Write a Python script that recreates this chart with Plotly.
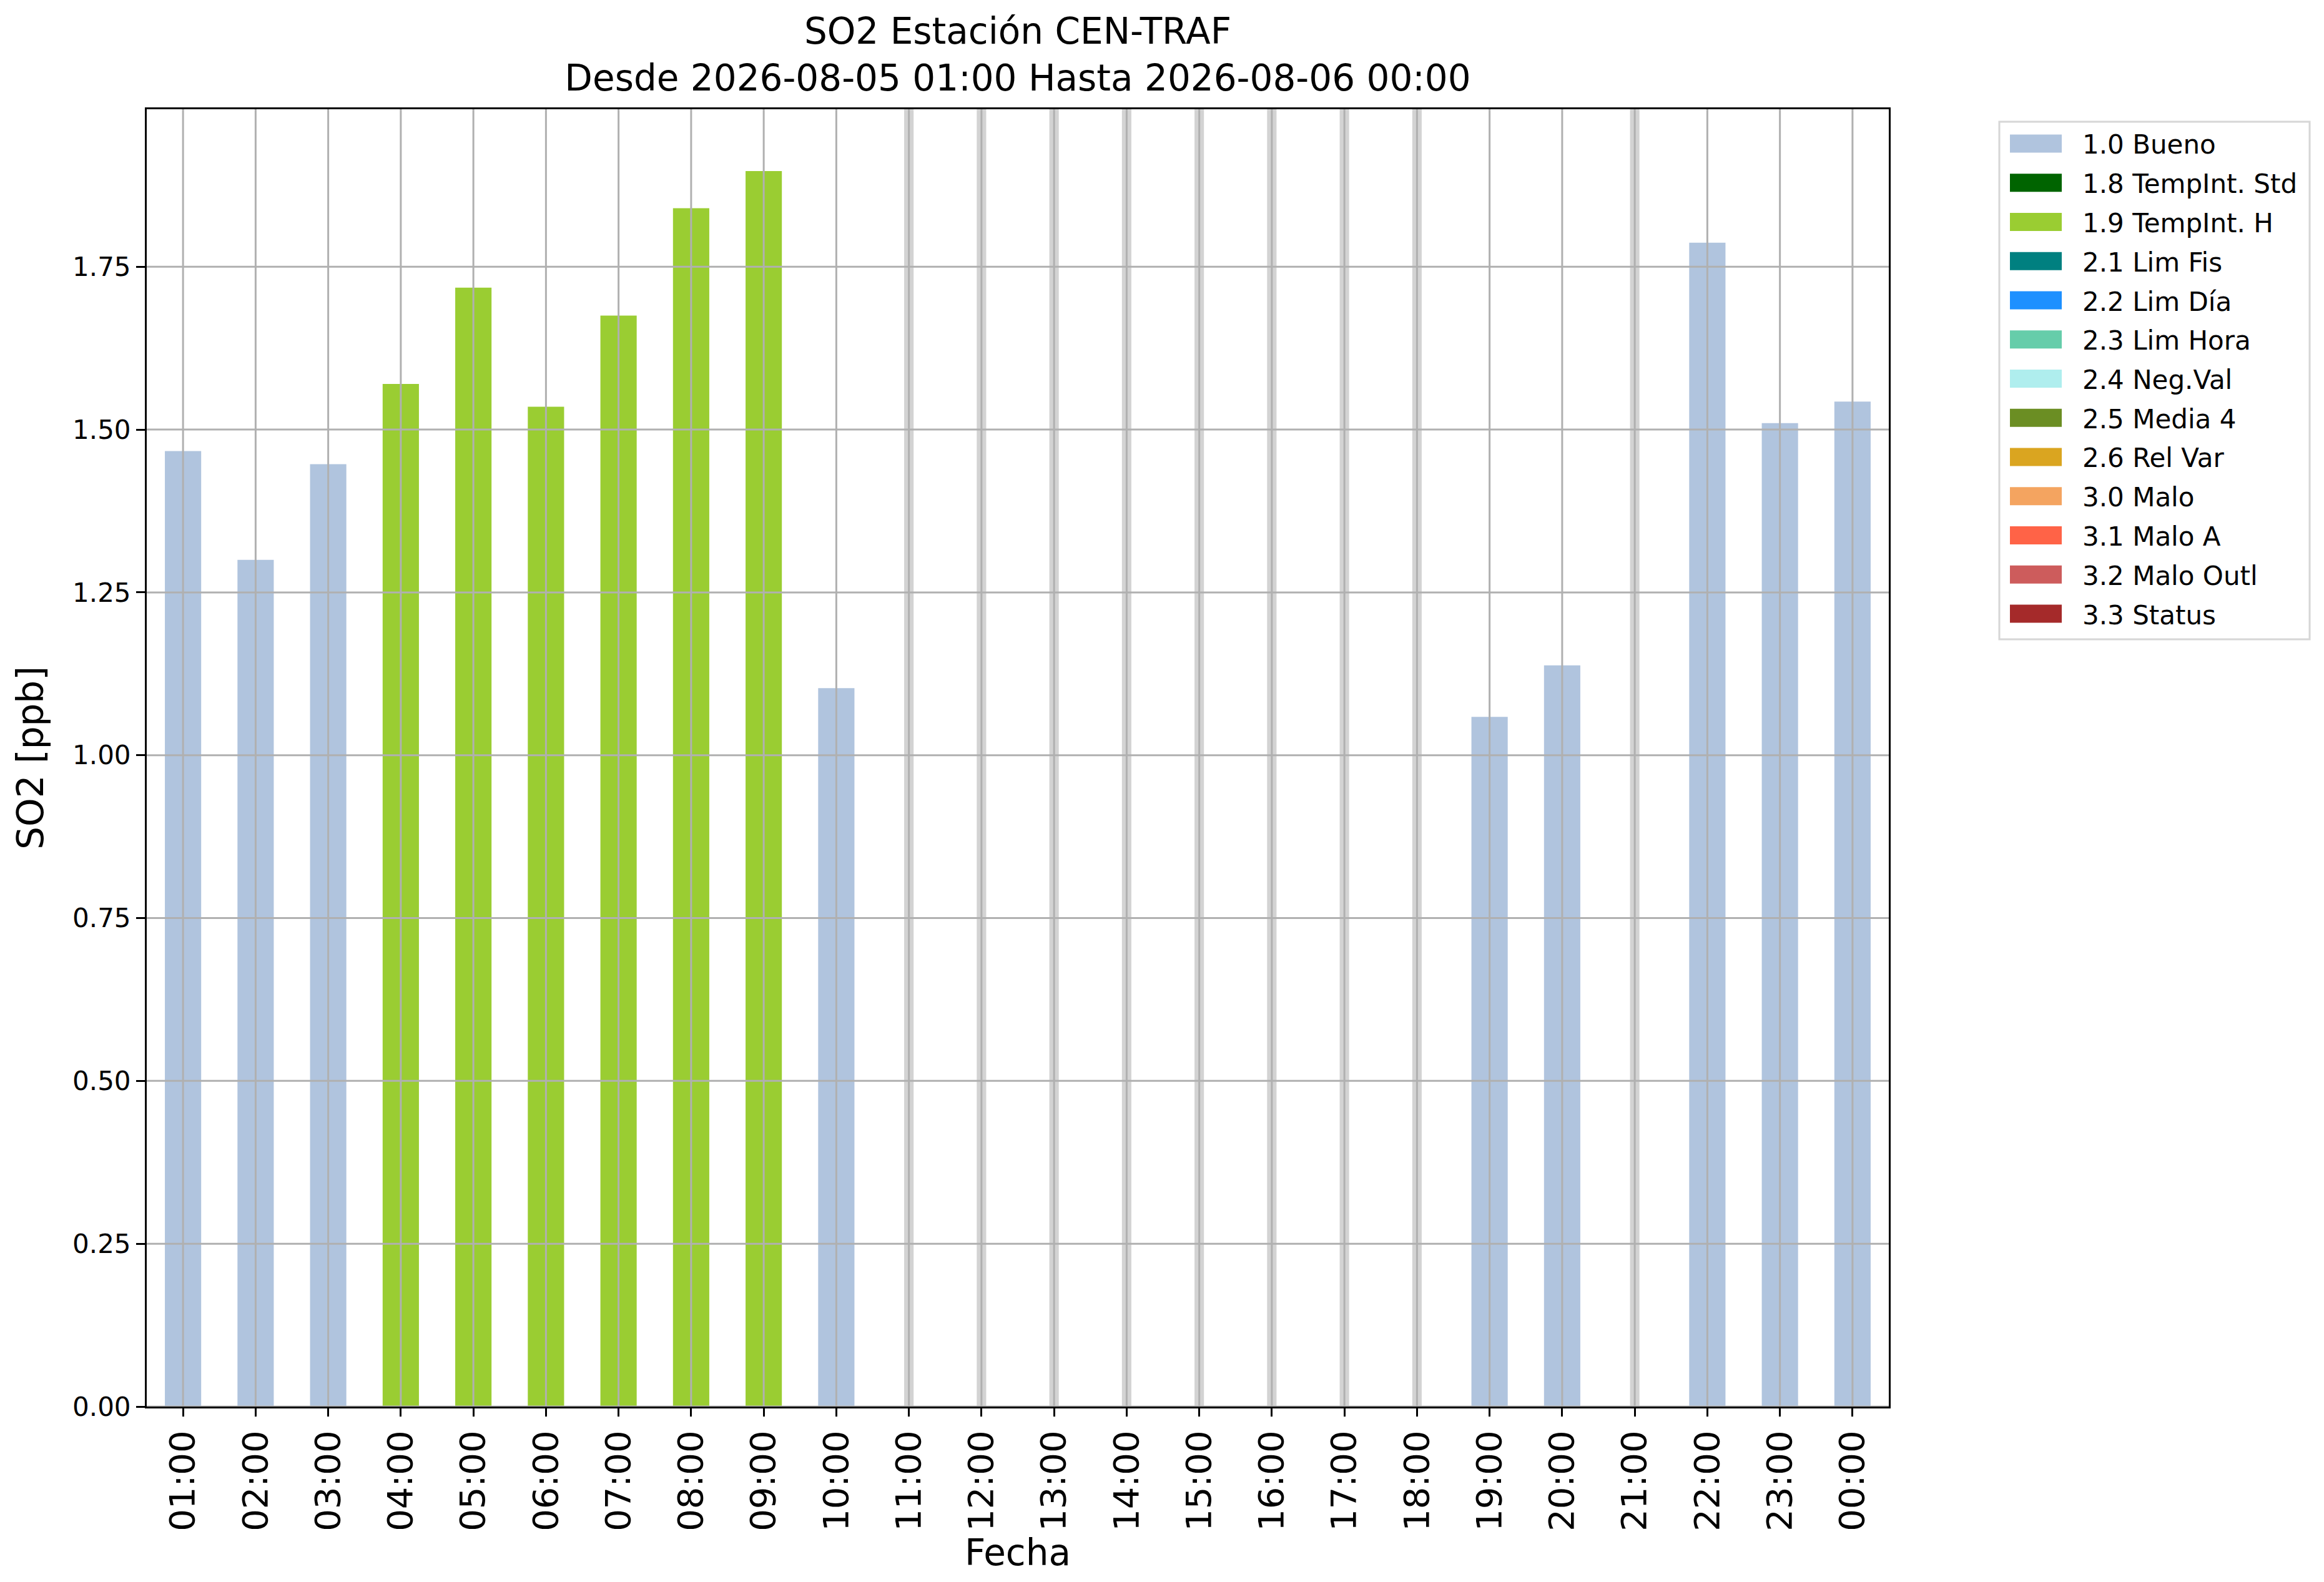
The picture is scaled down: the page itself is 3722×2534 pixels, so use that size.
import plotly.graph_objects as go

# horas del día (eje x) y valores SO2 en ppb (None = sin dato)
hours = ["01:00", "02:00", "03:00", "04:00", "05:00", "06:00", "07:00", "08:00",
         "09:00", "10:00", "11:00", "12:00", "13:00", "14:00", "15:00", "16:00",
         "17:00", "18:00", "19:00", "20:00", "21:00", "22:00", "23:00", "00:00"]
so2 = [1.467, 1.300, 1.447, 1.570, 1.718, 1.535, 1.675, 1.840,
       1.897, 1.103, None, None, None, None, None, None,
       None, None, 1.059, 1.138, None, 1.787, 1.510, 1.543]
flags = ["1.0", "1.0", "1.0", "1.9", "1.9", "1.9", "1.9", "1.9",
         "1.9", "1.0", None, None, None, None, None, None,
         None, None, "1.0", "1.0", None, "1.0", "1.0", "1.0"]

# clases de validación y sus colores
flag_codes = ["1.0", "1.8", "1.9", "2.1", "2.2", "2.3", "2.4", "2.5", "2.6",
              "3.0", "3.1", "3.2", "3.3"]
flag_names = ["1.0 Bueno", "1.8 TempInt. Std", "1.9 TempInt. H", "2.1 Lim Fis",
              "2.2 Lim Día", "2.3 Lim Hora", "2.4 Neg.Val", "2.5 Media 4",
              "2.6 Rel Var", "3.0 Malo", "3.1 Malo A", "3.2 Malo Outl", "3.3 Status"]
flag_colors = ["#b0c4de", "#006400", "#9acd32", "#008080", "#1e90ff", "#66cdaa",
               "#afeeee", "#6b8e23", "#daa520", "#f4a460", "#ff6347", "#cd5c5c",
               "#a52a2a"]

valid = [v for v in so2 if v is not None]
ymax = max(valid) * 1.05
yticks = [0.0, 0.25, 0.5, 0.75, 1.0, 1.25, 1.5, 1.75]

W, H = 3722, 2534
L, R, T, B = 227, 705, 167, 289
font = "DejaVu Sans"


def px_x(px):
    # pixel -> fracción de papel (horizontal)
    return (px - L) / (W - L - R)


def px_y(py):
    return (H - B - py) / (H - T - B)


fig = go.Figure()

# horas sin dato: franja gris fina de alto completo
missing = [h for h, v in zip(hours, so2) if v is None]
fig.add_trace(go.Bar(
    x=missing, y=[ymax] * len(missing), width=0.13,
    marker=dict(color="#d3d3d3", line=dict(width=0)),
    showlegend=False, hoverinfo="skip"
))

for code, name, color in zip(flag_codes, flag_names, flag_colors):
    xs = [h for h, v, f in zip(hours, so2, flags) if f == code]
    ys = [v for h, v, f in zip(hours, so2, flags) if f == code]
    if xs:
        fig.add_trace(go.Bar(
            x=xs, y=ys, name=name, width=0.5,
            marker=dict(color=color, line=dict(width=0)),
            showlegend=False
        ))

# rejilla encima de las barras, como en el original
for i in range(len(hours)):
    fig.add_shape(type="line", xref="x", yref="paper", x0=i, x1=i, y0=0, y1=1,
                  line=dict(color="#b0b0b0", width=3), layer="above")
for t in yticks:
    fig.add_shape(type="line", xref="paper", yref="y", x0=0, x1=1, y0=t, y1=t,
                  line=dict(color="#b0b0b0", width=3), layer="above")

# leyenda dibujada a mano (todas las clases, con rectángulos anchos)
box_l, box_r, box_t, box_b = 3194, 3691, 187, 1016
fig.add_shape(type="rect", xref="paper", yref="paper",
              x0=px_x(box_l), x1=px_x(box_r), y0=px_y(box_b), y1=px_y(box_t),
              line=dict(color="#d6d6d6", width=3), fillcolor="white", layer="above")
row0, step = 222, 62.75
for k, (name, color) in enumerate(zip(flag_names, flag_colors)):
    cy = row0 + k * step
    fig.add_shape(type="rect", xref="paper", yref="paper",
                  x0=px_x(3211), x1=px_x(3294), y0=px_y(cy + 14.5), y1=px_y(cy - 14.5),
                  line=dict(width=0), fillcolor=color, layer="above")
    fig.add_annotation(xref="paper", yref="paper", x=px_x(3325), y=px_y(cy + 2),
                       text=name, showarrow=False, xanchor="left", yanchor="middle",
                       font=dict(size=42, family=font, color="black"))

fig.update_layout(
    width=W, height=H,
    margin=dict(l=L, r=R, t=T, b=B),
    barmode="overlay",
    showlegend=False,
    plot_bgcolor="white", paper_bgcolor="white",
    font=dict(family=font, color="black"),
    title=dict(
        text="SO2 Estación CEN-TRAF<br>Desde 2026-08-05 01:00 Hasta 2026-08-06 00:00",
        x=(L + (W - L - R) / 2) / W, xanchor="center",
        y=1 - 62 / H, yanchor="top", yref="container",
        font=dict(size=58, family=font, color="black")
    ),
    xaxis=dict(
        type="category", categoryorder="array", categoryarray=hours,
        range=[-0.5, len(hours) - 0.5],
        tickangle=-90, tickfont=dict(size=56, family=font),
        showgrid=False, showline=True, linecolor="black", linewidth=3, mirror=True,
        ticks="outside", ticklen=13, tickwidth=3, tickcolor="black",
        title=dict(text="Fecha", font=dict(size=58, family=font), standoff=4)
    ),
    yaxis=dict(
        range=[0, ymax], tickvals=yticks,
        ticktext=[f"{t:.2f}" for t in yticks],
        tickfont=dict(size=42, family=font),
        showgrid=False, zeroline=False,
        showline=True, linecolor="black", linewidth=3, mirror=True,
        ticks="outside", ticklen=14, tickwidth=3, tickcolor="black",
        title=dict(text="SO2 [ppb]", font=dict(size=58, family=font), standoff=28)
    ),
)

fig.write_html("out.html")
